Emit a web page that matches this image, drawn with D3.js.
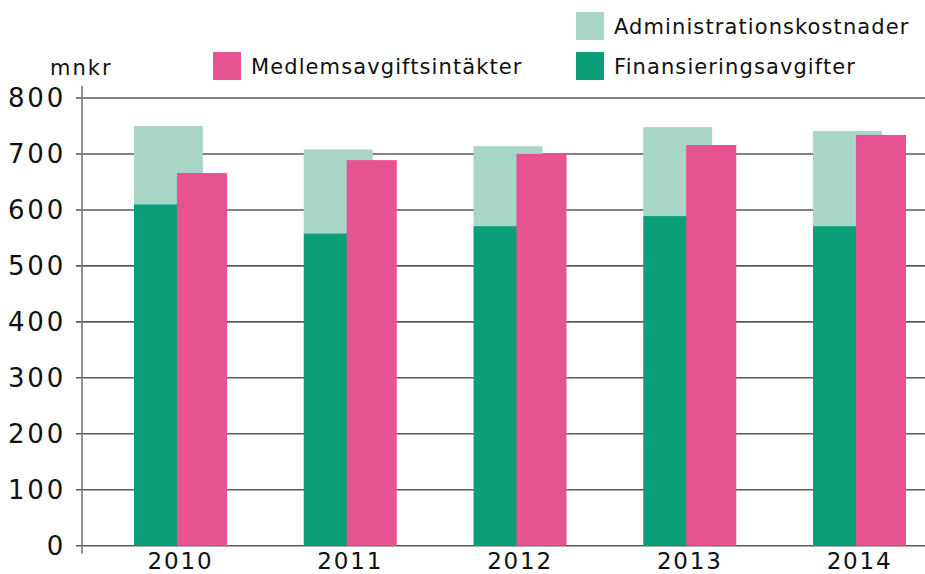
<!DOCTYPE html>
<html>
<head>
<meta charset="utf-8">
<script src="https://cdn.jsdelivr.net/npm/d3@7"></script>
<style>
  body { margin: 0; background: #fff; }
  svg { display: block; font-family: "DejaVu Sans", sans-serif; }
</style>
</head>
<body>
<div id="chart"></div>
<script>
// data (mnkr)
const years = ["2010", "2011", "2012", "2013", "2014"];
const finansiering = [610, 558, 571, 589, 571];
const administration = [140, 150, 143, 159, 170];
const medlemsavgifter = [666, 689, 700, 716, 734];
const yTicks = [0, 100, 200, 300, 400, 500, 600, 700, 800];

const width = 925, height = 574;
const colGreen = "#0a9e79", colLight = "#a9d7c7", colPink = "#e75392";

const svg = d3.select("#chart").append("svg")
  .attr("width", width).attr("height", height);

const axisX = 82;
const y = d3.scaleLinear().domain([0, 800]).range([545.7, 98]);
const x = d3.scaleBand().domain(years).range([95.6, 944.4]);

// gridlines + tick marks
svg.append("g")
  .selectAll("line")
  .data(yTicks)
  .join("line")
  .attr("x1", axisX - 6)
  .attr("x2", width)
  .attr("y1", d => y(d))
  .attr("y2", d => y(d))
  .attr("stroke", "#5a5a5a")
  .attr("stroke-width", 1.6);

// y tick labels
svg.append("g")
  .selectAll("text")
  .data(yTicks)
  .join("text")
  .attr("x", 66)
  .attr("y", d => y(d))
  .attr("dy", "0.36em")
  .attr("text-anchor", "end")
  .attr("font-size", 26)
  .attr("letter-spacing", 2.8)
  .attr("fill", "#111")
  .text(d => d);

// vertical axis line
svg.append("line")
  .attr("x1", axisX).attr("x2", axisX)
  .attr("y1", y(800) - 12).attr("y2", y(0) + 8)
  .attr("stroke", "#777").attr("stroke-width", 1.6);

const bw = x.bandwidth();
const stackW = bw * 0.406, pinkW = bw * 0.295;
const stackOff = -bw * 0.274, pinkOff = -bw * 0.021;
const cx = d => x(d) + bw / 2;

// stacked bars
const rows = years.map((yr, i) => ({ year: yr, fin: finansiering[i], adm: administration[i], med: medlemsavgifter[i] }));

const bars = svg.append("g");
bars.selectAll(".adm")
  .data(rows)
  .join("rect")
  .attr("x", d => cx(d.year) + stackOff)
  .attr("width", stackW)
  .attr("y", d => y(d.fin + d.adm))
  .attr("height", d => y(d.fin) - y(d.fin + d.adm))
  .attr("fill", colLight);

bars.selectAll(".fin")
  .data(rows)
  .join("rect")
  .attr("x", d => cx(d.year) + stackOff)
  .attr("width", stackW)
  .attr("y", d => y(d.fin))
  .attr("height", d => y(0) - y(d.fin))
  .attr("fill", colGreen);

bars.selectAll(".med")
  .data(rows)
  .join("rect")
  .attr("x", d => cx(d.year) + pinkOff)
  .attr("width", pinkW)
  .attr("y", d => y(d.med))
  .attr("height", d => y(0) - y(d.med))
  .attr("fill", colPink);

// year labels
svg.append("g")
  .selectAll("text")
  .data(years)
  .join("text")
  .attr("x", d => cx(d))
  .attr("y", 569)
  .attr("text-anchor", "middle")
  .attr("font-size", 23)
  .attr("letter-spacing", 1.8)
  .attr("fill", "#111")
  .text(d => d);

// unit label
svg.append("text")
  .attr("x", 50).attr("y", 75)
  .attr("font-size", 21)
  .attr("letter-spacing", 2)
  .attr("fill", "#111")
  .text("mnkr");

// legend
const legend = [
  { label: "Administrationskostnader", color: colLight, x: 576, y: 12 },
  { label: "Medlemsavgiftsintäkter", color: colPink, x: 213, y: 52 },
  { label: "Finansieringsavgifter", color: colGreen, x: 576, y: 52 }
];
const lg = svg.append("g").selectAll("g")
  .data(legend)
  .join("g")
  .attr("transform", d => `translate(${d.x},${d.y})`);
lg.append("rect")
  .attr("width", 28).attr("height", 28)
  .attr("fill", d => d.color);
lg.append("text")
  .attr("x", 38).attr("y", 14)
  .attr("dy", "0.36em")
  .attr("font-size", 21)
  .attr("letter-spacing", 1.1)
  .attr("fill", "#111")
  .text(d => d.label);
</script>
</body>
</html>
